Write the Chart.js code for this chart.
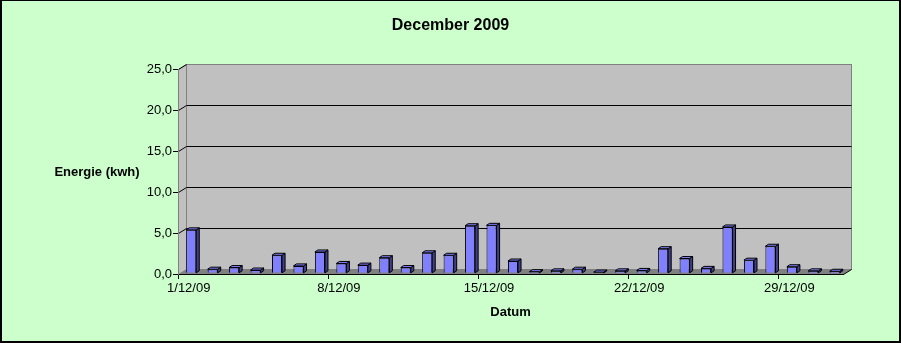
<!DOCTYPE html>
<html>
<head>
<meta charset="utf-8">
<title>December 2009</title>
<script src="https://cdn.jsdelivr.net/npm/chart.js@4.4.1/dist/chart.umd.min.js"></script>
<style>
  html, body { margin: 0; padding: 0; background: #ccffcc; }
  #wrap { width: 901px; height: 343px; }
</style>
</head>
<body>
<div id="wrap"><canvas id="chart-energie" width="901" height="343"></canvas></div>
<script>
/* Energie per dag — december 2009 */

const DAGEN = [
  '1/12/09', '2/12/09', '3/12/09', '4/12/09', '5/12/09', '6/12/09', '7/12/09',
  '8/12/09', '9/12/09', '10/12/09', '11/12/09', '12/12/09', '13/12/09', '14/12/09',
  '15/12/09', '16/12/09', '17/12/09', '18/12/09', '19/12/09', '20/12/09', '21/12/09',
  '22/12/09', '23/12/09', '24/12/09', '25/12/09', '26/12/09', '27/12/09', '28/12/09',
  '29/12/09', '30/12/09', '31/12/09'
];
const ENERGIE = [
  5.3, 0.5, 0.7, 0.4, 2.2, 0.9, 2.6,
  1.2, 1.0, 1.9, 0.7, 2.5, 2.2, 5.8,
  5.85, 1.5, 0.2, 0.3, 0.5, 0.15, 0.3,
  0.35, 3.0, 1.8, 0.6, 5.65, 1.6, 3.3,
  0.8, 0.3, 0.25
];
const X_LABELS = ['1/12/09', '8/12/09', '15/12/09', '22/12/09', '29/12/09'];
const Y_TICKS = [0, 5, 10, 15, 20, 25];

const FONT = "'Liberation Sans', Arial, sans-serif";
const KLEUREN = {
  achtergrond: '#ccffcc',
  wand:        '#c0c0c0',
  wandRand:    '#808080',
  vloer:       '#808080',
  balk:        '#8080ff',
  balkZij:     '#40408a',
};
const WAND = {dx: 8, dy: -5};    // diepte van de achterwand
const BALK = {dx: 3, dy: -2};    // diepte van de balken
const SHIFT = {x: 2.5, y: -0.7}; // balken staan iets naar achteren

function fmtKomma(v) {
  return Number(v).toFixed(1).replace('.', ',');
}

function tekst(ctx, txt, x, y, font) {
  ctx.font = font;
  ctx.fillStyle = '#000';
  ctx.textAlign = 'center';
  ctx.textBaseline = 'middle';
  ctx.fillText(txt, x, y);
}

// achtergrond, rand, wanden en vloer
const wandenPlugin = {
  id: 'wanden',
  beforeDraw(chart) {
    const {ctx, chartArea: a, scales} = chart;
    const W = chart.width, H = chart.height;
    ctx.save();
    ctx.fillStyle = KLEUREN.achtergrond;
    ctx.fillRect(0, 0, W, H);
    ctx.fillStyle = '#000';
    ctx.fillRect(0, 0, 2, H);
    ctx.fillRect(0, 0, W, 1);
    ctx.fillRect(W - 2, 0, 2, H);
    ctx.fillRect(0, H - 2, W, 2);

    const L = Math.round(a.left) + 0.5, R = Math.round(a.right) + 0.5;
    const T = Math.round(a.top) + 0.5, B = Math.round(a.bottom) + 0.5;
    const dx = WAND.dx, dy = WAND.dy;

    // linker zijwand
    ctx.beginPath();
    ctx.moveTo(L, T); ctx.lineTo(L + dx, T + dy); ctx.lineTo(L + dx, B + dy); ctx.lineTo(L, B);
    ctx.closePath();
    ctx.fillStyle = KLEUREN.wand; ctx.fill();
    ctx.strokeStyle = KLEUREN.wandRand; ctx.lineWidth = 1; ctx.stroke();

    // achterwand
    ctx.fillStyle = KLEUREN.wand;
    ctx.fillRect(L + dx, T + dy, R - L, B - T);
    ctx.strokeRect(L + dx, T + dy, R - L, B - T);

    // rasterlijnen op achterwand + zijwand
    ctx.strokeStyle = '#000';
    Y_TICKS.forEach(v => {
      if (v === 0) return;
      const y = Math.round(scales.y.getPixelForValue(v)) + 0.5;
      ctx.beginPath();
      ctx.moveTo(L, y);
      ctx.lineTo(L + dx, y + dy);
      if (v !== 25) ctx.lineTo(R + dx, y + dy);
      ctx.stroke();
    });

    // vloer
    ctx.beginPath();
    ctx.moveTo(L, B); ctx.lineTo(L + dx, B + dy); ctx.lineTo(R + dx, B + dy); ctx.lineTo(R, B);
    ctx.closePath();
    ctx.fillStyle = KLEUREN.vloer; ctx.fill();
    ctx.beginPath();
    ctx.moveTo(R, B); ctx.lineTo(R + dx, B + dy);
    ctx.strokeStyle = '#000'; ctx.stroke();
    ctx.restore();
  },
  beforeDatasetsDraw(chart) {
    chart.ctx.save();
    chart.ctx.translate(SHIFT.x, SHIFT.y);
  },
  afterDatasetsDraw(chart) {
    const ctx = chart.ctx;
    const meta = chart.getDatasetMeta(0);
    ctx.lineWidth = 1;
    ctx.strokeStyle = '#000';
    meta.data.forEach(el => {
      const {x, y, base, width} = el.getProps(['x', 'y', 'base', 'width'], true);
      const l = x - width / 2, r = x + width / 2;
      // zijkant
      ctx.beginPath();
      ctx.moveTo(r, y); ctx.lineTo(r + BALK.dx, y + BALK.dy);
      ctx.lineTo(r + BALK.dx, base + BALK.dy); ctx.lineTo(r, base);
      ctx.closePath();
      ctx.fillStyle = KLEUREN.balkZij; ctx.fill(); ctx.stroke();
      // bovenkant
      ctx.beginPath();
      ctx.moveTo(l, y); ctx.lineTo(l + BALK.dx, y + BALK.dy);
      ctx.lineTo(r + BALK.dx, y + BALK.dy); ctx.lineTo(r, y);
      ctx.closePath();
      ctx.fillStyle = KLEUREN.balk; ctx.fill(); ctx.stroke();
    });
    ctx.restore();
  },
  afterDraw(chart) {
    const ctx = chart.ctx;
    ctx.save();
    tekst(ctx, 'December 2009', chart.width / 2, 26, `bold 16px ${FONT}`);
    tekst(ctx, 'Energie (kwh)', 97, 172, `bold 13px ${FONT}`);
    ctx.restore();
  }
};

new Chart(document.getElementById('chart-energie'), {
  type: 'bar',
  data: {
    labels: DAGEN,
    datasets: [{
      label: 'Energie (kwh)',
      data: ENERGIE,
      backgroundColor: KLEUREN.balk,
      borderColor: '#000',
      borderWidth: 1,
      barPercentage: 0.47,
      categoryPercentage: 1.0,
    }]
  },
  options: {
    responsive: false,
    animation: false,
    layout: { padding: { left: 0, right: 58, top: 69, bottom: 0 } },
    plugins: {
      legend: { display: false },
      tooltip: { enabled: false },
      title: { display: false }
    },
    scales: {
      x: {
        grid: {
          offset: true,
          drawOnChartArea: false,
          drawTicks: true,
          tickLength: 5,
          color: ctx => (ctx.index % 7 === 0 ? '#000' : 'rgba(0,0,0,0)')
        },
        border: { display: true, color: '#000' },
        ticks: {
          autoSkip: false,
          maxRotation: 0,
          padding: 2,
          color: '#000',
          font: { family: FONT, size: 13 },
          callback(value) {
            const lbl = this.getLabelForValue(value);
            return X_LABELS.includes(lbl) ? lbl : '';
          }
        },
        title: {
          display: true,
          text: 'Datum',
          color: '#000',
          font: { family: FONT, size: 13, weight: 'bold', lineHeight: 1.2 },
          padding: { top: 0, bottom: 23 }
        },
        afterFit(scale) { scale.height = 69; }
      },
      y: {
        min: 0,
        max: 25,
        grid: { drawOnChartArea: false, drawTicks: true, tickLength: 5, color: '#000' },
        border: { display: true, color: '#808080' },
        ticks: {
          stepSize: 5,
          padding: 1,
          color: '#000',
          font: { family: FONT, size: 13 },
          callback: v => fmtKomma(v)
        },
        afterFit(scale) { scale.width = 178; }
      }
    }
  },
  plugins: [wandenPlugin]
});
</script>
</body>
</html>
